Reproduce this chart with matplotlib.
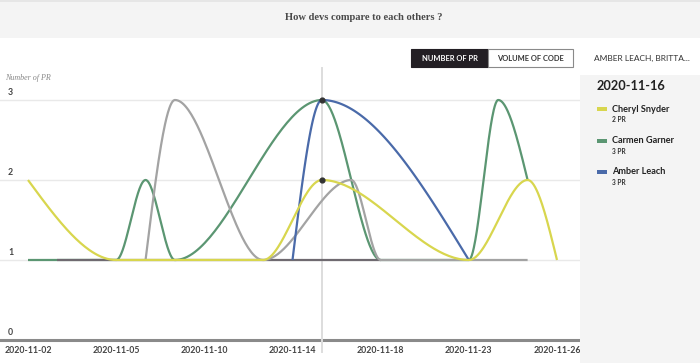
import numpy as np
import matplotlib
matplotlib.use("Agg")
import matplotlib.pyplot as plt
from matplotlib.patches import Rectangle

# ---------------- data ----------------
dates = ["2020-11-02", "2020-11-03", "2020-11-04", "2020-11-05", "2020-11-06",
         "2020-11-09", "2020-11-10", "2020-11-11", "2020-11-12", "2020-11-14",
         "2020-11-16", "2020-11-17", "2020-11-18", "2020-11-19", "2020-11-20",
         "2020-11-23", "2020-11-24", "2020-11-25", "2020-11-26"]
tick_labels = dates[::3]

cheryl_dates = ["2020-11-02", "2020-11-05", "2020-11-12", "2020-11-16", "2020-11-23", "2020-11-25", "2020-11-26"]
cheryl_pr = [2, 1, 1, 2, 1, 2, 1]
carmen_dates = ["2020-11-02", "2020-11-05", "2020-11-06", "2020-11-09", "2020-11-16", "2020-11-18",
                "2020-11-23", "2020-11-24", "2020-11-25"]
carmen_pr = [1, 1, 2, 1, 3, 1, 1, 3, 2]
amber_dates = ["2020-11-14", "2020-11-16", "2020-11-23"]
amber_pr = [1, 3, 1]
other1_dates = ["2020-11-06", "2020-11-09", "2020-11-12", "2020-11-17", "2020-11-18", "2020-11-25"]
other1_pr = [1, 3, 1, 2, 1, 1]
other2_dates = ["2020-11-03", "2020-11-18"]
other2_pr = [1, 1]

selected_date = "2020-11-16"
legend_names = ["Cheryl Snyder", "Carmen Garner", "Amber Leach"]
legend_values = ["2 PR", "3 PR", "3 PR"]
y_ticks = [0, 1, 2, 3]

# ---------------- helpers ----------------
W, H = 700, 363
YEL, GRN, BLU = "#d8d64e", "#5b9672", "#4a6aa9"
LGRAY, DGRAY = "#a3a3a3", "#6f6a70"


def monotone(xs, ys, n=60):
    xs = np.asarray(xs, float)
    ys = np.asarray(ys, float)
    m = len(xs)
    if m < 3:
        return xs, ys
    h = np.diff(xs)
    s = np.diff(ys) / h
    t = np.zeros(m)
    sg = lambda v: -1.0 if v < 0 else 1.0
    for i in range(1, m - 1):
        p = (s[i - 1] * h[i] + s[i] * h[i - 1]) / (h[i - 1] + h[i])
        t[i] = (sg(s[i - 1]) + sg(s[i])) * min(abs(s[i - 1]), abs(s[i]), 0.5 * abs(p))
    t[0] = (3 * s[0] - t[1]) / 2
    t[-1] = (3 * s[-1] - t[-2]) / 2
    X, Y = [], []
    for i in range(m - 1):
        u = np.linspace(0, 1, n)
        h00 = 2 * u**3 - 3 * u**2 + 1
        h10 = u**3 - 2 * u**2 + u
        h01 = -2 * u**3 + 3 * u**2
        h11 = u**3 - u**2
        X.append(xs[i] + u * h[i])
        Y.append(h00 * ys[i] + h10 * h[i] * t[i] + h01 * ys[i + 1] + h11 * h[i] * t[i + 1])
    return np.concatenate(X), np.concatenate(Y)


def pos(ds):
    return [dates.index(d) for d in ds]


def fx(x):
    return x / W


def fy(y):
    return 1 - y / H


fig = plt.figure(figsize=(W / 100, H / 100), dpi=100)
fig.patch.set_facecolor("white")

# header band
fig.patches.append(Rectangle((0, fy(38)), 1, 38 / H, transform=fig.transFigure,
                             facecolor="#f4f4f4", edgecolor="none", zorder=0))
fig.patches.append(Rectangle((0, fy(2)), 1, 2 / H, transform=fig.transFigure,
                             facecolor="#e6e6e6", edgecolor="none", zorder=0))
fig.text(fx(364), fy(18), "How devs compare to each others ?", ha="center", va="center",
         fontsize=7.6, fontweight="bold", color="#4a4a4a", family="Liberation Serif")

# right panel
fig.patches.append(Rectangle((fx(580), 0), 120 / W, fy(75), transform=fig.transFigure,
                             facecolor="#f4f4f4", edgecolor="none", zorder=0))

# ---------------- main axes ----------------
ax_l, ax_r, ax_t, ax_b = 0, 580, 70, 340
ax = fig.add_axes([fx(ax_l), fy(ax_b), (ax_r - ax_l) / W, (ax_b - ax_t) / H])
ax.set_facecolor("none")
px_per_idx = (557 - 28) / 18
ax.set_xlim(-28 / px_per_idx, (580 - 28) / px_per_idx)
ax.set_ylim(0, 3 + (100 - 70) / 80)
for sp in ax.spines.values():
    sp.set_visible(False)
ax.set_yticks([])
ax.set_xticks(range(0, len(dates), 3))
ax.set_xticklabels(tick_labels, fontsize=6.3, color="#444444", family="Lato", fontweight="bold")
ax.tick_params(axis="x", length=0, pad=4.5)
ax.axhline(0, color="#8a8a8a", lw=2.2, zorder=1, clip_on=False)
for v in y_ticks[1:]:
    ax.axhline(v, color="#e9e9e9", lw=1, zorder=1)
for v in y_ticks:
    ax.text(8 / px_per_idx - 28 / px_per_idx, v + 0.035, str(v), fontsize=6.3, color="#444444",
            family="Lato", fontweight="bold", va="bottom", ha="left")
ax.text(-23 / px_per_idx, 3.27, "Number of PR", fontsize=5.8, color="#888888",
        family="Liberation Serif", style="italic", va="center", ha="left")

sel = dates.index(selected_date)
ax.plot([sel, sel], [-0.15, 3.4], color="#dddddd", lw=1.4, zorder=2, clip_on=False)

series = [
    (carmen_dates, carmen_pr, GRN),
    (other2_dates, other2_pr, DGRAY),
    (other1_dates, other1_pr, LGRAY),
    (amber_dates, amber_pr, BLU),
    (cheryl_dates, cheryl_pr, YEL),
]
for ds, vals, col in series:
    X, Y = monotone(pos(ds), vals)
    ax.plot(X, Y, color=col, lw=1.6, zorder=3, solid_capstyle="butt")

sel_vals = sorted({v for ds, vals, _ in series for d, v in zip(ds, vals) if d == selected_date})
ax.scatter([sel] * len(sel_vals), sel_vals, s=12, color="#333333", zorder=5)

# ---------------- buttons ----------------
fig.patches.append(Rectangle((fx(411), fy(67)), 77 / W, 18 / H, transform=fig.transFigure,
                             facecolor="#231f24", edgecolor="#231f24", lw=0.8, zorder=2))
fig.patches.append(Rectangle((fx(488), fy(67)), 85 / W, 18 / H, transform=fig.transFigure,
                             facecolor="white", edgecolor="#8a8a8a", lw=0.8, zorder=2))
fig.text(fx(449.5), fy(58.5), "NUMBER OF PR", ha="center", va="center", fontsize=5.4,
         color="white", family="Lato", fontweight="bold", zorder=3)
fig.text(fx(530.5), fy(58.5), "VOLUME OF CODE", ha="center", va="center", fontsize=5.4,
         color="#333333", family="Lato", fontweight="bold", zorder=3)
fig.text(fx(642), fy(58.5), "AMBER LEACH, BRITTA...", ha="center", va="center", fontsize=6.0,
         color="#333333", family="Lato", zorder=3)

# ---------------- tooltip panel ----------------
fig.text(fx(597), fy(86), selected_date, ha="left", va="center", fontsize=9.2,
         color="#222222", family="Lato", fontweight="bold")
legend_colors = [YEL, GRN, BLU]
for i, (nm, val, col) in enumerate(zip(legend_names, legend_values, legend_colors)):
    y0 = 109 + i * 31.5
    fig.patches.append(Rectangle((fx(597), fy(y0 + 2)), 10 / W, 4 / H, transform=fig.transFigure,
                                 facecolor=col, edgecolor="none", zorder=2))
    fig.text(fx(612), fy(y0), nm, ha="left", va="center", fontsize=6.6, color="#222222",
             family="Lato", fontweight="bold")
    fig.text(fx(612), fy(y0 + 10.5), val, ha="left", va="center", fontsize=4.8, color="#333333",
             family="Lato", fontweight="bold")

fig.savefig("out.png", dpi=100)
